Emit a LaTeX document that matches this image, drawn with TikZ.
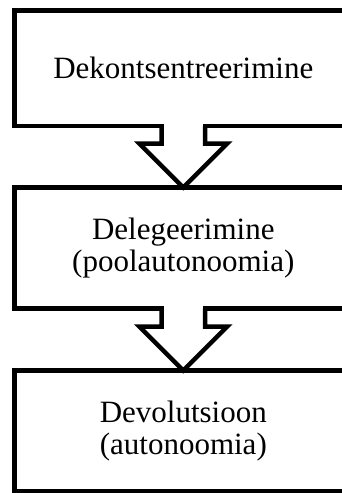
\documentclass[tikz,border=0pt]{standalone}
\usepackage{fontspec}
\setmainfont{Liberation Serif}
\usetikzlibrary{calc}

\begin{document}
\begin{tikzpicture}[x=1pt, y=-1pt,
        box/.style={draw, line width=4.5pt, outer sep=0pt, inner sep=0pt,
                    minimum width=337.6pt, minimum height=#1, align=center,
                    font=\fontsize{31}{32.5}\selectfont},
        blockarrow/.style={line width=4.5pt, miter limit=10}
                            ]
        % frame
        \useasboundingbox (0,0) rectangle (342,493);
        \clip (0,0) rectangle (342,493);
        % boxes
        \node[box=115.3pt] (dek) at (183.3,68.35) {Dekontsentreerimine};
        \node[box=121pt] (del) at (183.3,248) {Delegeerimine\\(poolautonoomia)};
        \node[box=121pt] (dev) at (183.3,431) {Devolutsioon\\(autonoomia)};
        % arrows
        \fill[white] ($(dek.south)+(-19.5,-2.5)$) rectangle ($(dek.south)+(19.5,2.5)$);
        \draw[blockarrow] ($(dek.south)+(-21.75,0)$) -- ($(del.north)+(-21.75,-44)$)
            -- ($(del.north)+(-44,-44)$) -- (del.north) -- ($(del.north)+(44,-44)$)
            -- ($(del.north)+(21.75,-44)$) -- ($(dek.south)+(21.75,0)$);
        %
        \fill[white] ($(del.south)+(-19.5,-2.5)$) rectangle ($(del.south)+(19.5,2.5)$);
        \draw[blockarrow] ($(del.south)+(-21.75,0)$) -- ($(dev.north)+(-21.75,-44)$)
            -- ($(dev.north)+(-44,-44)$) -- (dev.north) -- ($(dev.north)+(44,-44)$)
            -- ($(dev.north)+(21.75,-44)$) -- ($(del.south)+(21.75,0)$);
\end{tikzpicture}
\end{document}
